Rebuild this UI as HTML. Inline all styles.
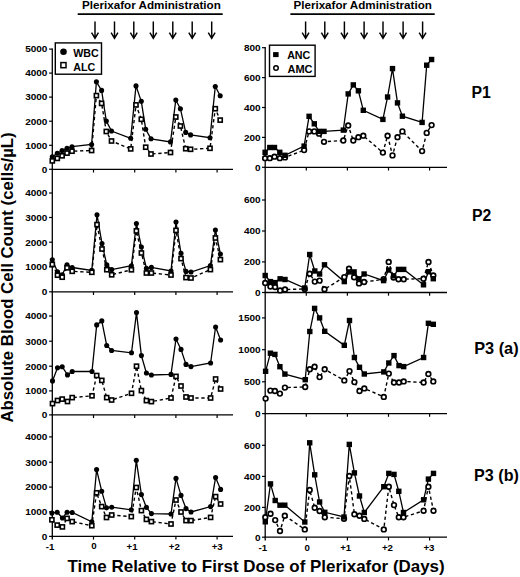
<!DOCTYPE html>
<html><head><meta charset="utf-8"><style>
html,body{margin:0;padding:0;background:#fff;}
body{width:520px;height:577px;overflow:hidden;position:relative;font-family:"Liberation Sans",sans-serif;}
</style></head><body>
<svg width="520" height="577" viewBox="0 0 520 577" style="position:absolute;left:0;top:0">
<rect width="520" height="577" fill="#fff"/>
<g stroke="#000" fill="none" stroke-linecap="butt">
<line x1="52.3" y1="48.4" x2="52.3" y2="539.6" stroke-width="1.3"/>
<line x1="265.2" y1="47.0" x2="265.2" y2="540.4" stroke-width="1.3"/>
<line x1="51.699999999999996" y1="169.3" x2="233.0" y2="169.3" stroke-width="1.3"/>
<line x1="93.5" y1="169.3" x2="93.5" y2="172.5" stroke-width="1.2"/>
<line x1="134.7" y1="169.3" x2="134.7" y2="172.5" stroke-width="1.2"/>
<line x1="175.9" y1="169.3" x2="175.9" y2="172.5" stroke-width="1.2"/>
<line x1="217.1" y1="169.3" x2="217.1" y2="172.5" stroke-width="1.2"/>
<line x1="51.699999999999996" y1="291.8" x2="233.0" y2="291.8" stroke-width="1.3"/>
<line x1="93.5" y1="291.8" x2="93.5" y2="295.0" stroke-width="1.2"/>
<line x1="134.7" y1="291.8" x2="134.7" y2="295.0" stroke-width="1.2"/>
<line x1="175.9" y1="291.8" x2="175.9" y2="295.0" stroke-width="1.2"/>
<line x1="217.1" y1="291.8" x2="217.1" y2="295.0" stroke-width="1.2"/>
<line x1="51.699999999999996" y1="414.9" x2="233.0" y2="414.9" stroke-width="1.3"/>
<line x1="93.5" y1="414.9" x2="93.5" y2="418.09999999999997" stroke-width="1.2"/>
<line x1="134.7" y1="414.9" x2="134.7" y2="418.09999999999997" stroke-width="1.2"/>
<line x1="175.9" y1="414.9" x2="175.9" y2="418.09999999999997" stroke-width="1.2"/>
<line x1="217.1" y1="414.9" x2="217.1" y2="418.09999999999997" stroke-width="1.2"/>
<line x1="51.699999999999996" y1="536.4" x2="233.0" y2="536.4" stroke-width="1.3"/>
<line x1="93.5" y1="536.4" x2="93.5" y2="539.6" stroke-width="1.2"/>
<line x1="134.7" y1="536.4" x2="134.7" y2="539.6" stroke-width="1.2"/>
<line x1="175.9" y1="536.4" x2="175.9" y2="539.6" stroke-width="1.2"/>
<line x1="217.1" y1="536.4" x2="217.1" y2="539.6" stroke-width="1.2"/>
<line x1="264.59999999999997" y1="167.3" x2="447.0" y2="167.3" stroke-width="1.3"/>
<line x1="306.3" y1="167.3" x2="306.3" y2="170.5" stroke-width="1.2"/>
<line x1="347.4" y1="167.3" x2="347.4" y2="170.5" stroke-width="1.2"/>
<line x1="388.5" y1="167.3" x2="388.5" y2="170.5" stroke-width="1.2"/>
<line x1="429.6" y1="167.3" x2="429.6" y2="170.5" stroke-width="1.2"/>
<line x1="264.59999999999997" y1="292.5" x2="447.0" y2="292.5" stroke-width="1.3"/>
<line x1="306.3" y1="292.5" x2="306.3" y2="295.7" stroke-width="1.2"/>
<line x1="347.4" y1="292.5" x2="347.4" y2="295.7" stroke-width="1.2"/>
<line x1="388.5" y1="292.5" x2="388.5" y2="295.7" stroke-width="1.2"/>
<line x1="429.6" y1="292.5" x2="429.6" y2="295.7" stroke-width="1.2"/>
<line x1="264.59999999999997" y1="413.6" x2="447.0" y2="413.6" stroke-width="1.3"/>
<line x1="306.3" y1="413.6" x2="306.3" y2="416.8" stroke-width="1.2"/>
<line x1="347.4" y1="413.6" x2="347.4" y2="416.8" stroke-width="1.2"/>
<line x1="388.5" y1="413.6" x2="388.5" y2="416.8" stroke-width="1.2"/>
<line x1="429.6" y1="413.6" x2="429.6" y2="416.8" stroke-width="1.2"/>
<line x1="264.59999999999997" y1="537.2" x2="447.0" y2="537.2" stroke-width="1.3"/>
<line x1="306.3" y1="537.2" x2="306.3" y2="540.4000000000001" stroke-width="1.2"/>
<line x1="347.4" y1="537.2" x2="347.4" y2="540.4000000000001" stroke-width="1.2"/>
<line x1="388.5" y1="537.2" x2="388.5" y2="540.4000000000001" stroke-width="1.2"/>
<line x1="429.6" y1="537.2" x2="429.6" y2="540.4000000000001" stroke-width="1.2"/>
<line x1="49.099999999999994" y1="169.3" x2="52.3" y2="169.3" stroke-width="1.2"/>
<line x1="49.099999999999994" y1="145.3" x2="52.3" y2="145.3" stroke-width="1.2"/>
<line x1="49.099999999999994" y1="121.2" x2="52.3" y2="121.2" stroke-width="1.2"/>
<line x1="49.099999999999994" y1="97.1" x2="52.3" y2="97.1" stroke-width="1.2"/>
<line x1="49.099999999999994" y1="73.1" x2="52.3" y2="73.1" stroke-width="1.2"/>
<line x1="49.099999999999994" y1="49.1" x2="52.3" y2="49.1" stroke-width="1.2"/>
<line x1="49.099999999999994" y1="291.8" x2="52.3" y2="291.8" stroke-width="1.2"/>
<line x1="49.099999999999994" y1="266.8" x2="52.3" y2="266.8" stroke-width="1.2"/>
<line x1="49.099999999999994" y1="242.2" x2="52.3" y2="242.2" stroke-width="1.2"/>
<line x1="49.099999999999994" y1="217.5" x2="52.3" y2="217.5" stroke-width="1.2"/>
<line x1="49.099999999999994" y1="193.0" x2="52.3" y2="193.0" stroke-width="1.2"/>
<line x1="49.099999999999994" y1="414.9" x2="52.3" y2="414.9" stroke-width="1.2"/>
<line x1="49.099999999999994" y1="390.9" x2="52.3" y2="390.9" stroke-width="1.2"/>
<line x1="49.099999999999994" y1="366.2" x2="52.3" y2="366.2" stroke-width="1.2"/>
<line x1="49.099999999999994" y1="341.2" x2="52.3" y2="341.2" stroke-width="1.2"/>
<line x1="49.099999999999994" y1="316.0" x2="52.3" y2="316.0" stroke-width="1.2"/>
<line x1="49.099999999999994" y1="536.4" x2="52.3" y2="536.4" stroke-width="1.2"/>
<line x1="49.099999999999994" y1="511.8" x2="52.3" y2="511.8" stroke-width="1.2"/>
<line x1="49.099999999999994" y1="487.1" x2="52.3" y2="487.1" stroke-width="1.2"/>
<line x1="49.099999999999994" y1="462.2" x2="52.3" y2="462.2" stroke-width="1.2"/>
<line x1="49.099999999999994" y1="436.9" x2="52.3" y2="436.9" stroke-width="1.2"/>
<line x1="262.0" y1="167.3" x2="265.2" y2="167.3" stroke-width="1.2"/>
<line x1="262.0" y1="137.4" x2="265.2" y2="137.4" stroke-width="1.2"/>
<line x1="262.0" y1="107.5" x2="265.2" y2="107.5" stroke-width="1.2"/>
<line x1="262.0" y1="77.6" x2="265.2" y2="77.6" stroke-width="1.2"/>
<line x1="262.0" y1="47.7" x2="265.2" y2="47.7" stroke-width="1.2"/>
<line x1="262.0" y1="292.5" x2="265.2" y2="292.5" stroke-width="1.2"/>
<line x1="262.0" y1="261.9" x2="265.2" y2="261.9" stroke-width="1.2"/>
<line x1="262.0" y1="231.0" x2="265.2" y2="231.0" stroke-width="1.2"/>
<line x1="262.0" y1="200.0" x2="265.2" y2="200.0" stroke-width="1.2"/>
<line x1="262.0" y1="413.6" x2="265.2" y2="413.6" stroke-width="1.2"/>
<line x1="262.0" y1="381.8" x2="265.2" y2="381.8" stroke-width="1.2"/>
<line x1="262.0" y1="349.7" x2="265.2" y2="349.7" stroke-width="1.2"/>
<line x1="262.0" y1="317.9" x2="265.2" y2="317.9" stroke-width="1.2"/>
<line x1="262.0" y1="537.2" x2="265.2" y2="537.2" stroke-width="1.2"/>
<line x1="262.0" y1="507.4" x2="265.2" y2="507.4" stroke-width="1.2"/>
<line x1="262.0" y1="476.4" x2="265.2" y2="476.4" stroke-width="1.2"/>
<line x1="262.0" y1="445.3" x2="265.2" y2="445.3" stroke-width="1.2"/>
<line x1="77.7" y1="14.1" x2="222.7" y2="14.1" stroke-width="1.6"/>
<line x1="290.4" y1="14.1" x2="434.7" y2="14.1" stroke-width="1.6"/>
<path d="M95.0 21.4V38.6M91.6 32.6L95.0 38.4L98.4 32.6" stroke-width="1.45"/>
<path d="M114.5 21.4V38.6M111.1 32.6L114.5 38.4L117.9 32.6" stroke-width="1.45"/>
<path d="M133.8 21.4V38.6M130.4 32.6L133.8 38.4L137.20000000000002 32.6" stroke-width="1.45"/>
<path d="M153.3 21.4V38.6M149.9 32.6L153.3 38.4L156.70000000000002 32.6" stroke-width="1.45"/>
<path d="M172.8 21.4V38.6M169.4 32.6L172.8 38.4L176.20000000000002 32.6" stroke-width="1.45"/>
<path d="M192.2 21.4V38.6M188.79999999999998 32.6L192.2 38.4L195.6 32.6" stroke-width="1.45"/>
<path d="M211.7 21.4V38.6M208.29999999999998 32.6L211.7 38.4L215.1 32.6" stroke-width="1.45"/>
<path d="M305.6 21.4V38.6M302.20000000000005 32.6L305.6 38.4L309.0 32.6" stroke-width="1.45"/>
<path d="M324.8 21.4V38.6M321.40000000000003 32.6L324.8 38.4L328.2 32.6" stroke-width="1.45"/>
<path d="M344.4 21.4V38.6M341.0 32.6L344.4 38.4L347.79999999999995 32.6" stroke-width="1.45"/>
<path d="M364.1 21.4V38.6M360.70000000000005 32.6L364.1 38.4L367.5 32.6" stroke-width="1.45"/>
<path d="M383.0 21.4V38.6M379.6 32.6L383.0 38.4L386.4 32.6" stroke-width="1.45"/>
<path d="M403.1 21.4V38.6M399.70000000000005 32.6L403.1 38.4L406.5 32.6" stroke-width="1.45"/>
<path d="M422.6 21.4V38.6M419.20000000000005 32.6L422.6 38.4L426.0 32.6" stroke-width="1.45"/>
</g>
<polyline points="52.3,160.9 57.3,158.4 62.1,155.8 67,153.1 72,151.2 91.6,150.5 96.4,95.6 101.6,103.4 106.3,131.5 111.5,141 130.7,148.9 136,104.9 141.3,119.3 145.7,147.2 151,154 170.5,152.5 175.8,117 180.4,126 185.7,148.7 190.6,149.3 210,148.3 215.3,108.7 220.2,120.1" fill="none" stroke="#000" stroke-width="1.4" stroke-dasharray="3.3 2.7"/>
<polyline points="52.3,156.7 57.3,153.3 62.1,150.6 67,148.3 72,146.7 91.6,144.5 96.4,81.8 101.6,90.4 106.3,121.1 111.5,131 130.7,138.3 136,85.9 141.3,101.3 145.7,129.2 151,138.8 170.5,141.9 175.8,100 180.4,108.7 185.7,132.4 190.6,134.9 210,137.7 215.3,86.5 220.2,95.8" fill="none" stroke="#000" stroke-width="1.3"/>
<circle cx="52.3" cy="156.7" r="2.55" fill="#000"/>
<circle cx="57.3" cy="153.3" r="2.55" fill="#000"/>
<circle cx="62.1" cy="150.6" r="2.55" fill="#000"/>
<circle cx="67" cy="148.3" r="2.55" fill="#000"/>
<circle cx="72" cy="146.7" r="2.55" fill="#000"/>
<circle cx="91.6" cy="144.5" r="2.55" fill="#000"/>
<circle cx="96.4" cy="81.8" r="2.55" fill="#000"/>
<circle cx="101.6" cy="90.4" r="2.55" fill="#000"/>
<circle cx="106.3" cy="121.1" r="2.55" fill="#000"/>
<circle cx="111.5" cy="131" r="2.55" fill="#000"/>
<circle cx="130.7" cy="138.3" r="2.55" fill="#000"/>
<circle cx="136" cy="85.9" r="2.55" fill="#000"/>
<circle cx="141.3" cy="101.3" r="2.55" fill="#000"/>
<circle cx="145.7" cy="129.2" r="2.55" fill="#000"/>
<circle cx="151" cy="138.8" r="2.55" fill="#000"/>
<circle cx="170.5" cy="141.9" r="2.55" fill="#000"/>
<circle cx="175.8" cy="100" r="2.55" fill="#000"/>
<circle cx="180.4" cy="108.7" r="2.55" fill="#000"/>
<circle cx="185.7" cy="132.4" r="2.55" fill="#000"/>
<circle cx="190.6" cy="134.9" r="2.55" fill="#000"/>
<circle cx="210" cy="137.7" r="2.55" fill="#000"/>
<circle cx="215.3" cy="86.5" r="2.55" fill="#000"/>
<circle cx="220.2" cy="95.8" r="2.55" fill="#000"/>
<rect x="50.25" y="158.85" width="4.1" height="4.1" fill="#fff" stroke="#000" stroke-width="1.6"/>
<rect x="55.25" y="156.35" width="4.1" height="4.1" fill="#fff" stroke="#000" stroke-width="1.6"/>
<rect x="60.05" y="153.75" width="4.1" height="4.1" fill="#fff" stroke="#000" stroke-width="1.6"/>
<rect x="64.95" y="151.05" width="4.1" height="4.1" fill="#fff" stroke="#000" stroke-width="1.6"/>
<rect x="69.95" y="149.15" width="4.1" height="4.1" fill="#fff" stroke="#000" stroke-width="1.6"/>
<rect x="89.55" y="148.45" width="4.1" height="4.1" fill="#fff" stroke="#000" stroke-width="1.6"/>
<rect x="94.35" y="93.55" width="4.1" height="4.1" fill="#fff" stroke="#000" stroke-width="1.6"/>
<rect x="99.55" y="101.35" width="4.1" height="4.1" fill="#fff" stroke="#000" stroke-width="1.6"/>
<rect x="104.25" y="129.45" width="4.1" height="4.1" fill="#fff" stroke="#000" stroke-width="1.6"/>
<rect x="109.45" y="138.95" width="4.1" height="4.1" fill="#fff" stroke="#000" stroke-width="1.6"/>
<rect x="128.65" y="146.85" width="4.1" height="4.1" fill="#fff" stroke="#000" stroke-width="1.6"/>
<rect x="133.95" y="102.85" width="4.1" height="4.1" fill="#fff" stroke="#000" stroke-width="1.6"/>
<rect x="139.25" y="117.25" width="4.1" height="4.1" fill="#fff" stroke="#000" stroke-width="1.6"/>
<rect x="143.65" y="145.15" width="4.1" height="4.1" fill="#fff" stroke="#000" stroke-width="1.6"/>
<rect x="148.95" y="151.95" width="4.1" height="4.1" fill="#fff" stroke="#000" stroke-width="1.6"/>
<rect x="168.45" y="150.45" width="4.1" height="4.1" fill="#fff" stroke="#000" stroke-width="1.6"/>
<rect x="173.75" y="114.95" width="4.1" height="4.1" fill="#fff" stroke="#000" stroke-width="1.6"/>
<rect x="178.35" y="123.95" width="4.1" height="4.1" fill="#fff" stroke="#000" stroke-width="1.6"/>
<rect x="183.65" y="146.65" width="4.1" height="4.1" fill="#fff" stroke="#000" stroke-width="1.6"/>
<rect x="188.55" y="147.25" width="4.1" height="4.1" fill="#fff" stroke="#000" stroke-width="1.6"/>
<rect x="207.95" y="146.25" width="4.1" height="4.1" fill="#fff" stroke="#000" stroke-width="1.6"/>
<rect x="213.25" y="106.65" width="4.1" height="4.1" fill="#fff" stroke="#000" stroke-width="1.6"/>
<rect x="218.15" y="118.05" width="4.1" height="4.1" fill="#fff" stroke="#000" stroke-width="1.6"/>
<polyline points="52.3,264.4 57.5,275.2 62.2,277.2 67,267.8 72.2,271.3 91.8,272.3 97,224.6 102,249 106.8,269.7 111.7,274.8 131.4,269.8 136.4,230.9 141.4,253 146.4,273 151.4,273 171,275 176,230.4 181,258.6 186,277.6 191,278 210.4,269.6 215.4,238 220.4,259.6" fill="none" stroke="#000" stroke-width="1.4" stroke-dasharray="3.3 2.7"/>
<polyline points="52.3,259.7 57.5,271.8 62.2,274.8 67,264.9 72.2,267.5 91.8,270.4 97,214.7 102,243.6 106.8,264.9 111.7,269.6 131.4,265.7 136.4,223.5 141.4,247 146.4,268.4 151.4,267.4 171,271 176,222 181,253.4 186,271.4 191,272 210.4,265.6 215.4,230 220.4,254" fill="none" stroke="#000" stroke-width="1.3"/>
<circle cx="52.3" cy="259.7" r="2.55" fill="#000"/>
<circle cx="57.5" cy="271.8" r="2.55" fill="#000"/>
<circle cx="62.2" cy="274.8" r="2.55" fill="#000"/>
<circle cx="67" cy="264.9" r="2.55" fill="#000"/>
<circle cx="72.2" cy="267.5" r="2.55" fill="#000"/>
<circle cx="91.8" cy="270.4" r="2.55" fill="#000"/>
<circle cx="97" cy="214.7" r="2.55" fill="#000"/>
<circle cx="102" cy="243.6" r="2.55" fill="#000"/>
<circle cx="106.8" cy="264.9" r="2.55" fill="#000"/>
<circle cx="111.7" cy="269.6" r="2.55" fill="#000"/>
<circle cx="131.4" cy="265.7" r="2.55" fill="#000"/>
<circle cx="136.4" cy="223.5" r="2.55" fill="#000"/>
<circle cx="141.4" cy="247" r="2.55" fill="#000"/>
<circle cx="146.4" cy="268.4" r="2.55" fill="#000"/>
<circle cx="151.4" cy="267.4" r="2.55" fill="#000"/>
<circle cx="171" cy="271" r="2.55" fill="#000"/>
<circle cx="176" cy="222" r="2.55" fill="#000"/>
<circle cx="181" cy="253.4" r="2.55" fill="#000"/>
<circle cx="186" cy="271.4" r="2.55" fill="#000"/>
<circle cx="191" cy="272" r="2.55" fill="#000"/>
<circle cx="210.4" cy="265.6" r="2.55" fill="#000"/>
<circle cx="215.4" cy="230" r="2.55" fill="#000"/>
<circle cx="220.4" cy="254" r="2.55" fill="#000"/>
<rect x="50.25" y="262.35" width="4.1" height="4.1" fill="#fff" stroke="#000" stroke-width="1.6"/>
<rect x="55.45" y="273.15" width="4.1" height="4.1" fill="#fff" stroke="#000" stroke-width="1.6"/>
<rect x="60.15" y="275.15" width="4.1" height="4.1" fill="#fff" stroke="#000" stroke-width="1.6"/>
<rect x="64.95" y="265.75" width="4.1" height="4.1" fill="#fff" stroke="#000" stroke-width="1.6"/>
<rect x="70.15" y="269.25" width="4.1" height="4.1" fill="#fff" stroke="#000" stroke-width="1.6"/>
<rect x="89.75" y="270.25" width="4.1" height="4.1" fill="#fff" stroke="#000" stroke-width="1.6"/>
<rect x="94.95" y="222.55" width="4.1" height="4.1" fill="#fff" stroke="#000" stroke-width="1.6"/>
<rect x="99.95" y="246.95" width="4.1" height="4.1" fill="#fff" stroke="#000" stroke-width="1.6"/>
<rect x="104.75" y="267.65" width="4.1" height="4.1" fill="#fff" stroke="#000" stroke-width="1.6"/>
<rect x="109.65" y="272.75" width="4.1" height="4.1" fill="#fff" stroke="#000" stroke-width="1.6"/>
<rect x="129.35" y="267.75" width="4.1" height="4.1" fill="#fff" stroke="#000" stroke-width="1.6"/>
<rect x="134.35" y="228.85" width="4.1" height="4.1" fill="#fff" stroke="#000" stroke-width="1.6"/>
<rect x="139.35" y="250.95" width="4.1" height="4.1" fill="#fff" stroke="#000" stroke-width="1.6"/>
<rect x="144.35" y="270.95" width="4.1" height="4.1" fill="#fff" stroke="#000" stroke-width="1.6"/>
<rect x="149.35" y="270.95" width="4.1" height="4.1" fill="#fff" stroke="#000" stroke-width="1.6"/>
<rect x="168.95" y="272.95" width="4.1" height="4.1" fill="#fff" stroke="#000" stroke-width="1.6"/>
<rect x="173.95" y="228.35" width="4.1" height="4.1" fill="#fff" stroke="#000" stroke-width="1.6"/>
<rect x="178.95" y="256.55" width="4.1" height="4.1" fill="#fff" stroke="#000" stroke-width="1.6"/>
<rect x="183.95" y="275.55" width="4.1" height="4.1" fill="#fff" stroke="#000" stroke-width="1.6"/>
<rect x="188.95" y="275.95" width="4.1" height="4.1" fill="#fff" stroke="#000" stroke-width="1.6"/>
<rect x="208.35" y="267.55" width="4.1" height="4.1" fill="#fff" stroke="#000" stroke-width="1.6"/>
<rect x="213.35" y="235.95" width="4.1" height="4.1" fill="#fff" stroke="#000" stroke-width="1.6"/>
<rect x="218.35" y="257.55" width="4.1" height="4.1" fill="#fff" stroke="#000" stroke-width="1.6"/>
<polyline points="52.5,403.6 57.5,400.5 62.2,399.1 67.5,401.5 72.2,397.6 92,395.8 96.7,375.5 101.8,380.4 106.7,397.6 111.6,400 131.5,393.3 136.5,366.2 141.4,390.6 146.4,400.6 151.4,401.6 171,398 176,376.4 181,386 186,397 191,398 210.6,398 215.6,379 220.6,389" fill="none" stroke="#000" stroke-width="1.4" stroke-dasharray="3.3 2.7"/>
<polyline points="52.5,380.9 57.5,367.8 62.2,366.7 67.5,374.9 72.2,371.5 92,371.5 96.7,324.9 101.8,320.9 106.7,345.5 111.6,350.5 131.5,352.8 136.5,312.6 141.4,355.6 146.4,373 151.4,375 171,374.4 176,339 181,349.4 186,364.4 191,366.6 210.6,363 215.6,327 220.6,340" fill="none" stroke="#000" stroke-width="1.3"/>
<circle cx="52.5" cy="380.9" r="2.55" fill="#000"/>
<circle cx="57.5" cy="367.8" r="2.55" fill="#000"/>
<circle cx="62.2" cy="366.7" r="2.55" fill="#000"/>
<circle cx="67.5" cy="374.9" r="2.55" fill="#000"/>
<circle cx="72.2" cy="371.5" r="2.55" fill="#000"/>
<circle cx="92" cy="371.5" r="2.55" fill="#000"/>
<circle cx="96.7" cy="324.9" r="2.55" fill="#000"/>
<circle cx="101.8" cy="320.9" r="2.55" fill="#000"/>
<circle cx="106.7" cy="345.5" r="2.55" fill="#000"/>
<circle cx="111.6" cy="350.5" r="2.55" fill="#000"/>
<circle cx="131.5" cy="352.8" r="2.55" fill="#000"/>
<circle cx="136.5" cy="312.6" r="2.55" fill="#000"/>
<circle cx="141.4" cy="355.6" r="2.55" fill="#000"/>
<circle cx="146.4" cy="373" r="2.55" fill="#000"/>
<circle cx="151.4" cy="375" r="2.55" fill="#000"/>
<circle cx="171" cy="374.4" r="2.55" fill="#000"/>
<circle cx="176" cy="339" r="2.55" fill="#000"/>
<circle cx="181" cy="349.4" r="2.55" fill="#000"/>
<circle cx="186" cy="364.4" r="2.55" fill="#000"/>
<circle cx="191" cy="366.6" r="2.55" fill="#000"/>
<circle cx="210.6" cy="363" r="2.55" fill="#000"/>
<circle cx="215.6" cy="327" r="2.55" fill="#000"/>
<circle cx="220.6" cy="340" r="2.55" fill="#000"/>
<rect x="50.45" y="401.55" width="4.1" height="4.1" fill="#fff" stroke="#000" stroke-width="1.6"/>
<rect x="55.45" y="398.45" width="4.1" height="4.1" fill="#fff" stroke="#000" stroke-width="1.6"/>
<rect x="60.15" y="397.05" width="4.1" height="4.1" fill="#fff" stroke="#000" stroke-width="1.6"/>
<rect x="65.45" y="399.45" width="4.1" height="4.1" fill="#fff" stroke="#000" stroke-width="1.6"/>
<rect x="70.15" y="395.55" width="4.1" height="4.1" fill="#fff" stroke="#000" stroke-width="1.6"/>
<rect x="89.95" y="393.75" width="4.1" height="4.1" fill="#fff" stroke="#000" stroke-width="1.6"/>
<rect x="94.65" y="373.45" width="4.1" height="4.1" fill="#fff" stroke="#000" stroke-width="1.6"/>
<rect x="99.75" y="378.35" width="4.1" height="4.1" fill="#fff" stroke="#000" stroke-width="1.6"/>
<rect x="104.65" y="395.55" width="4.1" height="4.1" fill="#fff" stroke="#000" stroke-width="1.6"/>
<rect x="109.55" y="397.95" width="4.1" height="4.1" fill="#fff" stroke="#000" stroke-width="1.6"/>
<rect x="129.45" y="391.25" width="4.1" height="4.1" fill="#fff" stroke="#000" stroke-width="1.6"/>
<rect x="134.45" y="364.15" width="4.1" height="4.1" fill="#fff" stroke="#000" stroke-width="1.6"/>
<rect x="139.35" y="388.55" width="4.1" height="4.1" fill="#fff" stroke="#000" stroke-width="1.6"/>
<rect x="144.35" y="398.55" width="4.1" height="4.1" fill="#fff" stroke="#000" stroke-width="1.6"/>
<rect x="149.35" y="399.55" width="4.1" height="4.1" fill="#fff" stroke="#000" stroke-width="1.6"/>
<rect x="168.95" y="395.95" width="4.1" height="4.1" fill="#fff" stroke="#000" stroke-width="1.6"/>
<rect x="173.95" y="374.35" width="4.1" height="4.1" fill="#fff" stroke="#000" stroke-width="1.6"/>
<rect x="178.95" y="383.95" width="4.1" height="4.1" fill="#fff" stroke="#000" stroke-width="1.6"/>
<rect x="183.95" y="394.95" width="4.1" height="4.1" fill="#fff" stroke="#000" stroke-width="1.6"/>
<rect x="188.95" y="395.95" width="4.1" height="4.1" fill="#fff" stroke="#000" stroke-width="1.6"/>
<rect x="208.55" y="395.95" width="4.1" height="4.1" fill="#fff" stroke="#000" stroke-width="1.6"/>
<rect x="213.55" y="376.95" width="4.1" height="4.1" fill="#fff" stroke="#000" stroke-width="1.6"/>
<rect x="218.55" y="386.95" width="4.1" height="4.1" fill="#fff" stroke="#000" stroke-width="1.6"/>
<polyline points="51.9,519.8 57.2,525.1 62.4,526.9 67.1,518.4 72.2,521.6 91.8,525.7 96.6,492.8 101.7,506.6 106.5,517.5 111.7,515 131.3,516.6 136.3,487.5 141.4,510.6 146.4,519.4 151.4,521.6 171,524 176,500 181,512 186,520.6 191,520.6 210.6,517.4 215.6,496.6 220.6,504" fill="none" stroke="#000" stroke-width="1.4" stroke-dasharray="3.3 2.7"/>
<polyline points="51.9,513.1 57.2,512.2 62.4,518 67.1,512.2 72.2,512.5 91.8,521.8 96.6,469.6 101.7,491.2 106.5,507.9 111.7,507.2 131.3,509.8 136.3,460.3 141.4,494.6 146.4,507.4 151.4,513.6 171,514 176,478.4 181,495.4 186,508.6 191,512 210.6,506.6 215.6,477.6 220.6,489.4" fill="none" stroke="#000" stroke-width="1.3"/>
<circle cx="51.9" cy="513.1" r="2.55" fill="#000"/>
<circle cx="57.2" cy="512.2" r="2.55" fill="#000"/>
<circle cx="62.4" cy="518" r="2.55" fill="#000"/>
<circle cx="67.1" cy="512.2" r="2.55" fill="#000"/>
<circle cx="72.2" cy="512.5" r="2.55" fill="#000"/>
<circle cx="91.8" cy="521.8" r="2.55" fill="#000"/>
<circle cx="96.6" cy="469.6" r="2.55" fill="#000"/>
<circle cx="101.7" cy="491.2" r="2.55" fill="#000"/>
<circle cx="106.5" cy="507.9" r="2.55" fill="#000"/>
<circle cx="111.7" cy="507.2" r="2.55" fill="#000"/>
<circle cx="131.3" cy="509.8" r="2.55" fill="#000"/>
<circle cx="136.3" cy="460.3" r="2.55" fill="#000"/>
<circle cx="141.4" cy="494.6" r="2.55" fill="#000"/>
<circle cx="146.4" cy="507.4" r="2.55" fill="#000"/>
<circle cx="151.4" cy="513.6" r="2.55" fill="#000"/>
<circle cx="171" cy="514" r="2.55" fill="#000"/>
<circle cx="176" cy="478.4" r="2.55" fill="#000"/>
<circle cx="181" cy="495.4" r="2.55" fill="#000"/>
<circle cx="186" cy="508.6" r="2.55" fill="#000"/>
<circle cx="191" cy="512" r="2.55" fill="#000"/>
<circle cx="210.6" cy="506.6" r="2.55" fill="#000"/>
<circle cx="215.6" cy="477.6" r="2.55" fill="#000"/>
<circle cx="220.6" cy="489.4" r="2.55" fill="#000"/>
<rect x="49.85" y="517.75" width="4.1" height="4.1" fill="#fff" stroke="#000" stroke-width="1.6"/>
<rect x="55.15" y="523.05" width="4.1" height="4.1" fill="#fff" stroke="#000" stroke-width="1.6"/>
<rect x="60.35" y="524.85" width="4.1" height="4.1" fill="#fff" stroke="#000" stroke-width="1.6"/>
<rect x="65.05" y="516.35" width="4.1" height="4.1" fill="#fff" stroke="#000" stroke-width="1.6"/>
<rect x="70.15" y="519.55" width="4.1" height="4.1" fill="#fff" stroke="#000" stroke-width="1.6"/>
<rect x="89.75" y="523.65" width="4.1" height="4.1" fill="#fff" stroke="#000" stroke-width="1.6"/>
<rect x="94.55" y="490.75" width="4.1" height="4.1" fill="#fff" stroke="#000" stroke-width="1.6"/>
<rect x="99.65" y="504.55" width="4.1" height="4.1" fill="#fff" stroke="#000" stroke-width="1.6"/>
<rect x="104.45" y="515.45" width="4.1" height="4.1" fill="#fff" stroke="#000" stroke-width="1.6"/>
<rect x="109.65" y="512.95" width="4.1" height="4.1" fill="#fff" stroke="#000" stroke-width="1.6"/>
<rect x="129.25" y="514.55" width="4.1" height="4.1" fill="#fff" stroke="#000" stroke-width="1.6"/>
<rect x="134.25" y="485.45" width="4.1" height="4.1" fill="#fff" stroke="#000" stroke-width="1.6"/>
<rect x="139.35" y="508.55" width="4.1" height="4.1" fill="#fff" stroke="#000" stroke-width="1.6"/>
<rect x="144.35" y="517.35" width="4.1" height="4.1" fill="#fff" stroke="#000" stroke-width="1.6"/>
<rect x="149.35" y="519.55" width="4.1" height="4.1" fill="#fff" stroke="#000" stroke-width="1.6"/>
<rect x="168.95" y="521.95" width="4.1" height="4.1" fill="#fff" stroke="#000" stroke-width="1.6"/>
<rect x="173.95" y="497.95" width="4.1" height="4.1" fill="#fff" stroke="#000" stroke-width="1.6"/>
<rect x="178.95" y="509.95" width="4.1" height="4.1" fill="#fff" stroke="#000" stroke-width="1.6"/>
<rect x="183.95" y="518.55" width="4.1" height="4.1" fill="#fff" stroke="#000" stroke-width="1.6"/>
<rect x="188.95" y="518.55" width="4.1" height="4.1" fill="#fff" stroke="#000" stroke-width="1.6"/>
<rect x="208.55" y="515.35" width="4.1" height="4.1" fill="#fff" stroke="#000" stroke-width="1.6"/>
<rect x="213.55" y="494.55" width="4.1" height="4.1" fill="#fff" stroke="#000" stroke-width="1.6"/>
<rect x="218.55" y="501.95" width="4.1" height="4.1" fill="#fff" stroke="#000" stroke-width="1.6"/>
<polyline points="265.1,158.2 269.8,158.2 274.5,156.7 279.8,158.2 285,157.4 304.1,150.1 309.1,131.4 314.3,131.4 319.1,133.7 324,141.8 343.3,140.5 348.2,125.5 353.3,140.5 358.4,137.2 363.3,135.7 382.9,152.6 387.6,135.7 392.5,155.4 397.5,137.2 402.4,131.4 422.1,151.1 426.7,132.9 431.6,125.1" fill="none" stroke="#000" stroke-width="1.4" stroke-dasharray="3.3 2.7"/>
<polyline points="265.1,152.3 269.8,147.5 274.5,147.5 279.8,152.3 285,155.3 304.1,146.1 309.1,116.3 314.3,123.8 319.1,131.4 324,131.4 343.3,130.1 348.2,93.9 353.3,84.9 358.4,90.8 363.3,110.3 382.9,119.4 387.6,97 392.5,68.6 397.5,102.9 402.4,116.2 422.1,122.4 426.7,65.2 431.6,59.5" fill="none" stroke="#000" stroke-width="1.3"/>
<circle cx="265.1" cy="158.2" r="2.35" fill="#fff" stroke="#000" stroke-width="1.65"/>
<circle cx="269.8" cy="158.2" r="2.35" fill="#fff" stroke="#000" stroke-width="1.65"/>
<circle cx="274.5" cy="156.7" r="2.35" fill="#fff" stroke="#000" stroke-width="1.65"/>
<circle cx="279.8" cy="158.2" r="2.35" fill="#fff" stroke="#000" stroke-width="1.65"/>
<circle cx="285" cy="157.4" r="2.35" fill="#fff" stroke="#000" stroke-width="1.65"/>
<circle cx="304.1" cy="150.1" r="2.35" fill="#fff" stroke="#000" stroke-width="1.65"/>
<circle cx="309.1" cy="131.4" r="2.35" fill="#fff" stroke="#000" stroke-width="1.65"/>
<circle cx="314.3" cy="131.4" r="2.35" fill="#fff" stroke="#000" stroke-width="1.65"/>
<circle cx="319.1" cy="133.7" r="2.35" fill="#fff" stroke="#000" stroke-width="1.65"/>
<circle cx="324" cy="141.8" r="2.35" fill="#fff" stroke="#000" stroke-width="1.65"/>
<circle cx="343.3" cy="140.5" r="2.35" fill="#fff" stroke="#000" stroke-width="1.65"/>
<circle cx="348.2" cy="125.5" r="2.35" fill="#fff" stroke="#000" stroke-width="1.65"/>
<circle cx="353.3" cy="140.5" r="2.35" fill="#fff" stroke="#000" stroke-width="1.65"/>
<circle cx="358.4" cy="137.2" r="2.35" fill="#fff" stroke="#000" stroke-width="1.65"/>
<circle cx="363.3" cy="135.7" r="2.35" fill="#fff" stroke="#000" stroke-width="1.65"/>
<circle cx="382.9" cy="152.6" r="2.35" fill="#fff" stroke="#000" stroke-width="1.65"/>
<circle cx="387.6" cy="135.7" r="2.35" fill="#fff" stroke="#000" stroke-width="1.65"/>
<circle cx="392.5" cy="155.4" r="2.35" fill="#fff" stroke="#000" stroke-width="1.65"/>
<circle cx="397.5" cy="137.2" r="2.35" fill="#fff" stroke="#000" stroke-width="1.65"/>
<circle cx="402.4" cy="131.4" r="2.35" fill="#fff" stroke="#000" stroke-width="1.65"/>
<circle cx="422.1" cy="151.1" r="2.35" fill="#fff" stroke="#000" stroke-width="1.65"/>
<circle cx="426.7" cy="132.9" r="2.35" fill="#fff" stroke="#000" stroke-width="1.65"/>
<circle cx="431.6" cy="125.1" r="2.35" fill="#fff" stroke="#000" stroke-width="1.65"/>
<rect x="262.40" y="149.60" width="5.4" height="5.4" fill="#000"/>
<rect x="267.10" y="144.80" width="5.4" height="5.4" fill="#000"/>
<rect x="271.80" y="144.80" width="5.4" height="5.4" fill="#000"/>
<rect x="277.10" y="149.60" width="5.4" height="5.4" fill="#000"/>
<rect x="282.30" y="152.60" width="5.4" height="5.4" fill="#000"/>
<rect x="301.40" y="143.40" width="5.4" height="5.4" fill="#000"/>
<rect x="306.40" y="113.60" width="5.4" height="5.4" fill="#000"/>
<rect x="311.60" y="121.10" width="5.4" height="5.4" fill="#000"/>
<rect x="316.40" y="128.70" width="5.4" height="5.4" fill="#000"/>
<rect x="321.30" y="128.70" width="5.4" height="5.4" fill="#000"/>
<rect x="340.60" y="127.40" width="5.4" height="5.4" fill="#000"/>
<rect x="345.50" y="91.20" width="5.4" height="5.4" fill="#000"/>
<rect x="350.60" y="82.20" width="5.4" height="5.4" fill="#000"/>
<rect x="355.70" y="88.10" width="5.4" height="5.4" fill="#000"/>
<rect x="360.60" y="107.60" width="5.4" height="5.4" fill="#000"/>
<rect x="380.20" y="116.70" width="5.4" height="5.4" fill="#000"/>
<rect x="384.90" y="94.30" width="5.4" height="5.4" fill="#000"/>
<rect x="389.80" y="65.90" width="5.4" height="5.4" fill="#000"/>
<rect x="394.80" y="100.20" width="5.4" height="5.4" fill="#000"/>
<rect x="399.70" y="113.50" width="5.4" height="5.4" fill="#000"/>
<rect x="419.40" y="119.70" width="5.4" height="5.4" fill="#000"/>
<rect x="424.00" y="62.50" width="5.4" height="5.4" fill="#000"/>
<rect x="428.90" y="56.80" width="5.4" height="5.4" fill="#000"/>
<polyline points="265.2,283 270.4,286.5 275.1,287 280.1,290.4 285,289.5 304.7,289 309.7,273.8 314.8,281.6 319.6,280.6 324.5,289.3 344.3,277.1 349,268.8 354.1,277.2 359,283.4 364.1,282 383.6,279.3 388.7,261.9 393.6,277.5 398.5,279.2 403.7,279.2 423.5,278.7 428.5,261.9 433.3,275.5" fill="none" stroke="#000" stroke-width="1.4" stroke-dasharray="3.3 2.7"/>
<polyline points="265.2,275.5 270.4,281.6 275.1,282.6 280.1,278.8 285,279.5 304.7,288 309.7,254.5 314.8,271 319.6,274 324.5,264.8 344.3,281.6 349,271.9 354.1,271.9 359,278.8 364.1,274 383.6,280.6 388.7,270 393.6,275.8 398.5,269.4 403.7,269.4 423.5,284.8 428.5,271.7 433.3,278.7" fill="none" stroke="#000" stroke-width="1.3"/>
<circle cx="265.2" cy="283" r="2.35" fill="#fff" stroke="#000" stroke-width="1.65"/>
<circle cx="270.4" cy="286.5" r="2.35" fill="#fff" stroke="#000" stroke-width="1.65"/>
<circle cx="275.1" cy="287" r="2.35" fill="#fff" stroke="#000" stroke-width="1.65"/>
<circle cx="280.1" cy="290.4" r="2.35" fill="#fff" stroke="#000" stroke-width="1.65"/>
<circle cx="285" cy="289.5" r="2.35" fill="#fff" stroke="#000" stroke-width="1.65"/>
<circle cx="304.7" cy="289" r="2.35" fill="#fff" stroke="#000" stroke-width="1.65"/>
<circle cx="309.7" cy="273.8" r="2.35" fill="#fff" stroke="#000" stroke-width="1.65"/>
<circle cx="314.8" cy="281.6" r="2.35" fill="#fff" stroke="#000" stroke-width="1.65"/>
<circle cx="319.6" cy="280.6" r="2.35" fill="#fff" stroke="#000" stroke-width="1.65"/>
<circle cx="324.5" cy="289.3" r="2.35" fill="#fff" stroke="#000" stroke-width="1.65"/>
<circle cx="344.3" cy="277.1" r="2.35" fill="#fff" stroke="#000" stroke-width="1.65"/>
<circle cx="349" cy="268.8" r="2.35" fill="#fff" stroke="#000" stroke-width="1.65"/>
<circle cx="354.1" cy="277.2" r="2.35" fill="#fff" stroke="#000" stroke-width="1.65"/>
<circle cx="359" cy="283.4" r="2.35" fill="#fff" stroke="#000" stroke-width="1.65"/>
<circle cx="364.1" cy="282" r="2.35" fill="#fff" stroke="#000" stroke-width="1.65"/>
<circle cx="383.6" cy="279.3" r="2.35" fill="#fff" stroke="#000" stroke-width="1.65"/>
<circle cx="388.7" cy="261.9" r="2.35" fill="#fff" stroke="#000" stroke-width="1.65"/>
<circle cx="393.6" cy="277.5" r="2.35" fill="#fff" stroke="#000" stroke-width="1.65"/>
<circle cx="398.5" cy="279.2" r="2.35" fill="#fff" stroke="#000" stroke-width="1.65"/>
<circle cx="403.7" cy="279.2" r="2.35" fill="#fff" stroke="#000" stroke-width="1.65"/>
<circle cx="423.5" cy="278.7" r="2.35" fill="#fff" stroke="#000" stroke-width="1.65"/>
<circle cx="428.5" cy="261.9" r="2.35" fill="#fff" stroke="#000" stroke-width="1.65"/>
<circle cx="433.3" cy="275.5" r="2.35" fill="#fff" stroke="#000" stroke-width="1.65"/>
<rect x="262.50" y="272.80" width="5.4" height="5.4" fill="#000"/>
<rect x="267.70" y="278.90" width="5.4" height="5.4" fill="#000"/>
<rect x="272.40" y="279.90" width="5.4" height="5.4" fill="#000"/>
<rect x="277.40" y="276.10" width="5.4" height="5.4" fill="#000"/>
<rect x="282.30" y="276.80" width="5.4" height="5.4" fill="#000"/>
<rect x="302.00" y="285.30" width="5.4" height="5.4" fill="#000"/>
<rect x="307.00" y="251.80" width="5.4" height="5.4" fill="#000"/>
<rect x="312.10" y="268.30" width="5.4" height="5.4" fill="#000"/>
<rect x="316.90" y="271.30" width="5.4" height="5.4" fill="#000"/>
<rect x="321.80" y="262.10" width="5.4" height="5.4" fill="#000"/>
<rect x="341.60" y="278.90" width="5.4" height="5.4" fill="#000"/>
<rect x="346.30" y="269.20" width="5.4" height="5.4" fill="#000"/>
<rect x="351.40" y="269.20" width="5.4" height="5.4" fill="#000"/>
<rect x="356.30" y="276.10" width="5.4" height="5.4" fill="#000"/>
<rect x="361.40" y="271.30" width="5.4" height="5.4" fill="#000"/>
<rect x="380.90" y="277.90" width="5.4" height="5.4" fill="#000"/>
<rect x="386.00" y="267.30" width="5.4" height="5.4" fill="#000"/>
<rect x="390.90" y="273.10" width="5.4" height="5.4" fill="#000"/>
<rect x="395.80" y="266.70" width="5.4" height="5.4" fill="#000"/>
<rect x="401.00" y="266.70" width="5.4" height="5.4" fill="#000"/>
<rect x="420.80" y="282.10" width="5.4" height="5.4" fill="#000"/>
<rect x="425.80" y="269.00" width="5.4" height="5.4" fill="#000"/>
<rect x="430.60" y="276.00" width="5.4" height="5.4" fill="#000"/>
<polyline points="265.6,398.6 270.4,390.6 274.9,391 279.9,393.6 284.9,387.6 305.2,387 309.8,369.3 314.6,366.7 319.6,377.1 324.7,369.3 344.3,380.4 349.5,371.1 354.4,382.1 359.5,391 364.3,388.4 383.8,396.9 388.8,373.6 394,382.5 399,382.5 403.7,381.4 423.6,382.5 428.4,374 433.3,381.4" fill="none" stroke="#000" stroke-width="1.4" stroke-dasharray="3.3 2.7"/>
<polyline points="265.6,371.3 270.4,353.2 274.9,354.4 279.9,366.7 284.9,374.1 305.2,379.7 309.8,331.5 314.6,308.4 319.6,317.9 324.7,331.3 344.3,345.3 349.5,320.5 354.4,357.5 359.5,367.3 364.3,374 383.8,371.9 388.8,363 394,355.6 399,365.6 403.7,366.6 423.6,357.5 428.4,323.3 433.3,324.3" fill="none" stroke="#000" stroke-width="1.3"/>
<circle cx="265.6" cy="398.6" r="2.35" fill="#fff" stroke="#000" stroke-width="1.65"/>
<circle cx="270.4" cy="390.6" r="2.35" fill="#fff" stroke="#000" stroke-width="1.65"/>
<circle cx="274.9" cy="391" r="2.35" fill="#fff" stroke="#000" stroke-width="1.65"/>
<circle cx="279.9" cy="393.6" r="2.35" fill="#fff" stroke="#000" stroke-width="1.65"/>
<circle cx="284.9" cy="387.6" r="2.35" fill="#fff" stroke="#000" stroke-width="1.65"/>
<circle cx="305.2" cy="387" r="2.35" fill="#fff" stroke="#000" stroke-width="1.65"/>
<circle cx="309.8" cy="369.3" r="2.35" fill="#fff" stroke="#000" stroke-width="1.65"/>
<circle cx="314.6" cy="366.7" r="2.35" fill="#fff" stroke="#000" stroke-width="1.65"/>
<circle cx="319.6" cy="377.1" r="2.35" fill="#fff" stroke="#000" stroke-width="1.65"/>
<circle cx="324.7" cy="369.3" r="2.35" fill="#fff" stroke="#000" stroke-width="1.65"/>
<circle cx="344.3" cy="380.4" r="2.35" fill="#fff" stroke="#000" stroke-width="1.65"/>
<circle cx="349.5" cy="371.1" r="2.35" fill="#fff" stroke="#000" stroke-width="1.65"/>
<circle cx="354.4" cy="382.1" r="2.35" fill="#fff" stroke="#000" stroke-width="1.65"/>
<circle cx="359.5" cy="391" r="2.35" fill="#fff" stroke="#000" stroke-width="1.65"/>
<circle cx="364.3" cy="388.4" r="2.35" fill="#fff" stroke="#000" stroke-width="1.65"/>
<circle cx="383.8" cy="396.9" r="2.35" fill="#fff" stroke="#000" stroke-width="1.65"/>
<circle cx="388.8" cy="373.6" r="2.35" fill="#fff" stroke="#000" stroke-width="1.65"/>
<circle cx="394" cy="382.5" r="2.35" fill="#fff" stroke="#000" stroke-width="1.65"/>
<circle cx="399" cy="382.5" r="2.35" fill="#fff" stroke="#000" stroke-width="1.65"/>
<circle cx="403.7" cy="381.4" r="2.35" fill="#fff" stroke="#000" stroke-width="1.65"/>
<circle cx="423.6" cy="382.5" r="2.35" fill="#fff" stroke="#000" stroke-width="1.65"/>
<circle cx="428.4" cy="374" r="2.35" fill="#fff" stroke="#000" stroke-width="1.65"/>
<circle cx="433.3" cy="381.4" r="2.35" fill="#fff" stroke="#000" stroke-width="1.65"/>
<rect x="262.90" y="368.60" width="5.4" height="5.4" fill="#000"/>
<rect x="267.70" y="350.50" width="5.4" height="5.4" fill="#000"/>
<rect x="272.20" y="351.70" width="5.4" height="5.4" fill="#000"/>
<rect x="277.20" y="364.00" width="5.4" height="5.4" fill="#000"/>
<rect x="282.20" y="371.40" width="5.4" height="5.4" fill="#000"/>
<rect x="302.50" y="377.00" width="5.4" height="5.4" fill="#000"/>
<rect x="307.10" y="328.80" width="5.4" height="5.4" fill="#000"/>
<rect x="311.90" y="305.70" width="5.4" height="5.4" fill="#000"/>
<rect x="316.90" y="315.20" width="5.4" height="5.4" fill="#000"/>
<rect x="322.00" y="328.60" width="5.4" height="5.4" fill="#000"/>
<rect x="341.60" y="342.60" width="5.4" height="5.4" fill="#000"/>
<rect x="346.80" y="317.80" width="5.4" height="5.4" fill="#000"/>
<rect x="351.70" y="354.80" width="5.4" height="5.4" fill="#000"/>
<rect x="356.80" y="364.60" width="5.4" height="5.4" fill="#000"/>
<rect x="361.60" y="371.30" width="5.4" height="5.4" fill="#000"/>
<rect x="381.10" y="369.20" width="5.4" height="5.4" fill="#000"/>
<rect x="386.10" y="360.30" width="5.4" height="5.4" fill="#000"/>
<rect x="391.30" y="352.90" width="5.4" height="5.4" fill="#000"/>
<rect x="396.30" y="362.90" width="5.4" height="5.4" fill="#000"/>
<rect x="401.00" y="363.90" width="5.4" height="5.4" fill="#000"/>
<rect x="420.90" y="354.80" width="5.4" height="5.4" fill="#000"/>
<rect x="425.70" y="320.60" width="5.4" height="5.4" fill="#000"/>
<rect x="430.60" y="321.60" width="5.4" height="5.4" fill="#000"/>
<polyline points="265.3,517.2 270.5,513.8 275.2,520.1 280,531 284.8,515.7 304.8,529.4 309.7,490 314.7,507.7 319.6,511 324.8,517.2 344,518.7 349.3,476 354.4,514.2 359.5,515.7 364.3,518.9 383.8,529.4 388.8,486.7 394,505.1 398.8,517.2 403.5,517.2 423.6,510.8 428.4,486.7 433.5,510.8" fill="none" stroke="#000" stroke-width="1.4" stroke-dasharray="3.3 2.7"/>
<polyline points="265.3,521.8 270.5,483.9 275.2,500.5 280,505.2 284.8,505.2 304.8,522 309.7,442.8 314.7,474.8 319.6,502 324.8,512.3 344,517 349.3,444.4 354.4,472.9 359.5,496 364.3,512.5 383.8,486.7 388.8,473.4 394,474.4 398.8,491.3 403.5,512.5 423.6,499.8 428.4,479.1 433.5,473.4" fill="none" stroke="#000" stroke-width="1.3"/>
<circle cx="265.3" cy="517.2" r="2.35" fill="#fff" stroke="#000" stroke-width="1.65"/>
<circle cx="270.5" cy="513.8" r="2.35" fill="#fff" stroke="#000" stroke-width="1.65"/>
<circle cx="275.2" cy="520.1" r="2.35" fill="#fff" stroke="#000" stroke-width="1.65"/>
<circle cx="280" cy="531" r="2.35" fill="#fff" stroke="#000" stroke-width="1.65"/>
<circle cx="284.8" cy="515.7" r="2.35" fill="#fff" stroke="#000" stroke-width="1.65"/>
<circle cx="304.8" cy="529.4" r="2.35" fill="#fff" stroke="#000" stroke-width="1.65"/>
<circle cx="309.7" cy="490" r="2.35" fill="#fff" stroke="#000" stroke-width="1.65"/>
<circle cx="314.7" cy="507.7" r="2.35" fill="#fff" stroke="#000" stroke-width="1.65"/>
<circle cx="319.6" cy="511" r="2.35" fill="#fff" stroke="#000" stroke-width="1.65"/>
<circle cx="324.8" cy="517.2" r="2.35" fill="#fff" stroke="#000" stroke-width="1.65"/>
<circle cx="344" cy="518.7" r="2.35" fill="#fff" stroke="#000" stroke-width="1.65"/>
<circle cx="349.3" cy="476" r="2.35" fill="#fff" stroke="#000" stroke-width="1.65"/>
<circle cx="354.4" cy="514.2" r="2.35" fill="#fff" stroke="#000" stroke-width="1.65"/>
<circle cx="359.5" cy="515.7" r="2.35" fill="#fff" stroke="#000" stroke-width="1.65"/>
<circle cx="364.3" cy="518.9" r="2.35" fill="#fff" stroke="#000" stroke-width="1.65"/>
<circle cx="383.8" cy="529.4" r="2.35" fill="#fff" stroke="#000" stroke-width="1.65"/>
<circle cx="388.8" cy="486.7" r="2.35" fill="#fff" stroke="#000" stroke-width="1.65"/>
<circle cx="394" cy="505.1" r="2.35" fill="#fff" stroke="#000" stroke-width="1.65"/>
<circle cx="398.8" cy="517.2" r="2.35" fill="#fff" stroke="#000" stroke-width="1.65"/>
<circle cx="403.5" cy="517.2" r="2.35" fill="#fff" stroke="#000" stroke-width="1.65"/>
<circle cx="423.6" cy="510.8" r="2.35" fill="#fff" stroke="#000" stroke-width="1.65"/>
<circle cx="428.4" cy="486.7" r="2.35" fill="#fff" stroke="#000" stroke-width="1.65"/>
<circle cx="433.5" cy="510.8" r="2.35" fill="#fff" stroke="#000" stroke-width="1.65"/>
<rect x="262.60" y="519.10" width="5.4" height="5.4" fill="#000"/>
<rect x="267.80" y="481.20" width="5.4" height="5.4" fill="#000"/>
<rect x="272.50" y="497.80" width="5.4" height="5.4" fill="#000"/>
<rect x="277.30" y="502.50" width="5.4" height="5.4" fill="#000"/>
<rect x="282.10" y="502.50" width="5.4" height="5.4" fill="#000"/>
<rect x="302.10" y="519.30" width="5.4" height="5.4" fill="#000"/>
<rect x="307.00" y="440.10" width="5.4" height="5.4" fill="#000"/>
<rect x="312.00" y="472.10" width="5.4" height="5.4" fill="#000"/>
<rect x="316.90" y="499.30" width="5.4" height="5.4" fill="#000"/>
<rect x="322.10" y="509.60" width="5.4" height="5.4" fill="#000"/>
<rect x="341.30" y="514.30" width="5.4" height="5.4" fill="#000"/>
<rect x="346.60" y="441.70" width="5.4" height="5.4" fill="#000"/>
<rect x="351.70" y="470.20" width="5.4" height="5.4" fill="#000"/>
<rect x="356.80" y="493.30" width="5.4" height="5.4" fill="#000"/>
<rect x="361.60" y="509.80" width="5.4" height="5.4" fill="#000"/>
<rect x="381.10" y="484.00" width="5.4" height="5.4" fill="#000"/>
<rect x="386.10" y="470.70" width="5.4" height="5.4" fill="#000"/>
<rect x="391.30" y="471.70" width="5.4" height="5.4" fill="#000"/>
<rect x="396.10" y="488.60" width="5.4" height="5.4" fill="#000"/>
<rect x="400.80" y="509.80" width="5.4" height="5.4" fill="#000"/>
<rect x="420.90" y="497.10" width="5.4" height="5.4" fill="#000"/>
<rect x="425.70" y="476.40" width="5.4" height="5.4" fill="#000"/>
<rect x="430.80" y="470.70" width="5.4" height="5.4" fill="#000"/>
<rect x="55.3" y="42.9" width="46.2" height="31.3" fill="#fff" stroke="#000" stroke-width="1.4"/>
<circle cx="63.5" cy="51.7" r="3.3" fill="#000"/>
<rect x="60.9" y="62.6" width="5.1" height="5.1" fill="#fff" stroke="#000" stroke-width="1.5"/>
<rect x="269.5" y="45.2" width="45.6" height="31.2" fill="#fff" stroke="#000" stroke-width="1.4"/>
<rect x="273.1" y="52.1" width="5.5" height="5.0" fill="#000"/>
<circle cx="276.0" cy="68.0" r="2.25" fill="#fff" stroke="#000" stroke-width="1.5"/>
<text x="81.98" y="9.15" font-size="11.67" text-anchor="start" font-family="'Liberation Sans', sans-serif" font-weight="bold" >Plerixafor Administration</text>
<text x="293.44" y="9.15" font-size="11.64" text-anchor="start" font-family="'Liberation Sans', sans-serif" font-weight="bold" >Plerixafor Administration</text>
<text x="73.25" y="56.75" font-size="10.70" text-anchor="start" font-family="'Liberation Sans', sans-serif" font-weight="bold" >WBC</text>
<text x="73.35" y="70.95" font-size="10.70" text-anchor="start" font-family="'Liberation Sans', sans-serif" font-weight="bold" >ALC</text>
<text x="287.16" y="59.45" font-size="10.70" text-anchor="start" font-family="'Liberation Sans', sans-serif" font-weight="bold" >ANC</text>
<text x="287.47" y="72.65" font-size="11.00" text-anchor="start" font-family="'Liberation Sans', sans-serif" font-weight="bold" >AMC</text>
<text x="471.45" y="98.40" font-size="15.80" text-anchor="start" font-family="'Liberation Sans', sans-serif" font-weight="bold" >P1</text>
<text x="471.99" y="221.30" font-size="15.80" text-anchor="start" font-family="'Liberation Sans', sans-serif" font-weight="bold" >P2</text>
<text x="474.24" y="354.00" font-size="16.30" text-anchor="start" font-family="'Liberation Sans', sans-serif" font-weight="bold" >P3 (a)</text>
<text x="474.11" y="481.30" font-size="16.10" text-anchor="start" font-family="'Liberation Sans', sans-serif" font-weight="bold" >P3 (b)</text>
<text x="67.55" y="572.20" font-size="16.95" text-anchor="start" font-family="'Liberation Sans', sans-serif" font-weight="bold" >Time Relative to First Dose of Plerixafor (Days)</text>
<text x="0" y="0" font-size="16.80" text-anchor="middle" font-family="'Liberation Sans', sans-serif" font-weight="bold" transform="translate(12.52 277.45) rotate(-90)">Absolute Blood Cell Count (cells/µL)</text>
<text x="41.84" y="172.60" font-size="9.8" textLength="5.56" lengthAdjust="spacingAndGlyphs" font-family="'Liberation Sans', sans-serif" font-weight="bold">0</text>
<text x="25.15" y="148.60" font-size="9.8" textLength="22.25" lengthAdjust="spacingAndGlyphs" font-family="'Liberation Sans', sans-serif" font-weight="bold">1000</text>
<text x="25.15" y="124.50" font-size="9.8" textLength="22.25" lengthAdjust="spacingAndGlyphs" font-family="'Liberation Sans', sans-serif" font-weight="bold">2000</text>
<text x="25.15" y="100.40" font-size="9.8" textLength="22.25" lengthAdjust="spacingAndGlyphs" font-family="'Liberation Sans', sans-serif" font-weight="bold">3000</text>
<text x="25.15" y="76.40" font-size="9.8" textLength="22.25" lengthAdjust="spacingAndGlyphs" font-family="'Liberation Sans', sans-serif" font-weight="bold">4000</text>
<text x="25.15" y="52.40" font-size="9.8" textLength="22.25" lengthAdjust="spacingAndGlyphs" font-family="'Liberation Sans', sans-serif" font-weight="bold">5000</text>
<text x="41.84" y="295.10" font-size="9.8" textLength="5.56" lengthAdjust="spacingAndGlyphs" font-family="'Liberation Sans', sans-serif" font-weight="bold">0</text>
<text x="25.15" y="270.10" font-size="9.8" textLength="22.25" lengthAdjust="spacingAndGlyphs" font-family="'Liberation Sans', sans-serif" font-weight="bold">1000</text>
<text x="25.15" y="245.50" font-size="9.8" textLength="22.25" lengthAdjust="spacingAndGlyphs" font-family="'Liberation Sans', sans-serif" font-weight="bold">2000</text>
<text x="25.15" y="220.80" font-size="9.8" textLength="22.25" lengthAdjust="spacingAndGlyphs" font-family="'Liberation Sans', sans-serif" font-weight="bold">3000</text>
<text x="25.15" y="196.30" font-size="9.8" textLength="22.25" lengthAdjust="spacingAndGlyphs" font-family="'Liberation Sans', sans-serif" font-weight="bold">4000</text>
<text x="41.84" y="418.20" font-size="9.8" textLength="5.56" lengthAdjust="spacingAndGlyphs" font-family="'Liberation Sans', sans-serif" font-weight="bold">0</text>
<text x="25.15" y="394.20" font-size="9.8" textLength="22.25" lengthAdjust="spacingAndGlyphs" font-family="'Liberation Sans', sans-serif" font-weight="bold">1000</text>
<text x="25.15" y="369.50" font-size="9.8" textLength="22.25" lengthAdjust="spacingAndGlyphs" font-family="'Liberation Sans', sans-serif" font-weight="bold">2000</text>
<text x="25.15" y="344.50" font-size="9.8" textLength="22.25" lengthAdjust="spacingAndGlyphs" font-family="'Liberation Sans', sans-serif" font-weight="bold">3000</text>
<text x="25.15" y="319.30" font-size="9.8" textLength="22.25" lengthAdjust="spacingAndGlyphs" font-family="'Liberation Sans', sans-serif" font-weight="bold">4000</text>
<text x="41.84" y="539.70" font-size="9.8" textLength="5.56" lengthAdjust="spacingAndGlyphs" font-family="'Liberation Sans', sans-serif" font-weight="bold">0</text>
<text x="25.15" y="515.10" font-size="9.8" textLength="22.25" lengthAdjust="spacingAndGlyphs" font-family="'Liberation Sans', sans-serif" font-weight="bold">1000</text>
<text x="25.15" y="490.40" font-size="9.8" textLength="22.25" lengthAdjust="spacingAndGlyphs" font-family="'Liberation Sans', sans-serif" font-weight="bold">2000</text>
<text x="25.15" y="465.50" font-size="9.8" textLength="22.25" lengthAdjust="spacingAndGlyphs" font-family="'Liberation Sans', sans-serif" font-weight="bold">3000</text>
<text x="25.15" y="440.20" font-size="9.8" textLength="22.25" lengthAdjust="spacingAndGlyphs" font-family="'Liberation Sans', sans-serif" font-weight="bold">4000</text>
<text x="255.04" y="170.60" font-size="9.8" textLength="5.56" lengthAdjust="spacingAndGlyphs" font-family="'Liberation Sans', sans-serif" font-weight="bold">0</text>
<text x="243.91" y="140.70" font-size="9.8" textLength="16.69" lengthAdjust="spacingAndGlyphs" font-family="'Liberation Sans', sans-serif" font-weight="bold">200</text>
<text x="243.91" y="110.80" font-size="9.8" textLength="16.69" lengthAdjust="spacingAndGlyphs" font-family="'Liberation Sans', sans-serif" font-weight="bold">400</text>
<text x="243.91" y="80.90" font-size="9.8" textLength="16.69" lengthAdjust="spacingAndGlyphs" font-family="'Liberation Sans', sans-serif" font-weight="bold">600</text>
<text x="243.91" y="51.00" font-size="9.8" textLength="16.69" lengthAdjust="spacingAndGlyphs" font-family="'Liberation Sans', sans-serif" font-weight="bold">800</text>
<text x="255.04" y="295.80" font-size="9.8" textLength="5.56" lengthAdjust="spacingAndGlyphs" font-family="'Liberation Sans', sans-serif" font-weight="bold">0</text>
<text x="243.91" y="265.20" font-size="9.8" textLength="16.69" lengthAdjust="spacingAndGlyphs" font-family="'Liberation Sans', sans-serif" font-weight="bold">200</text>
<text x="243.91" y="234.30" font-size="9.8" textLength="16.69" lengthAdjust="spacingAndGlyphs" font-family="'Liberation Sans', sans-serif" font-weight="bold">400</text>
<text x="243.91" y="203.30" font-size="9.8" textLength="16.69" lengthAdjust="spacingAndGlyphs" font-family="'Liberation Sans', sans-serif" font-weight="bold">600</text>
<text x="255.04" y="416.90" font-size="9.8" textLength="5.56" lengthAdjust="spacingAndGlyphs" font-family="'Liberation Sans', sans-serif" font-weight="bold">0</text>
<text x="243.91" y="385.10" font-size="9.8" textLength="16.69" lengthAdjust="spacingAndGlyphs" font-family="'Liberation Sans', sans-serif" font-weight="bold">500</text>
<text x="238.35" y="353.00" font-size="9.8" textLength="22.25" lengthAdjust="spacingAndGlyphs" font-family="'Liberation Sans', sans-serif" font-weight="bold">1000</text>
<text x="238.35" y="321.20" font-size="9.8" textLength="22.25" lengthAdjust="spacingAndGlyphs" font-family="'Liberation Sans', sans-serif" font-weight="bold">1500</text>
<text x="255.04" y="540.50" font-size="9.8" textLength="5.56" lengthAdjust="spacingAndGlyphs" font-family="'Liberation Sans', sans-serif" font-weight="bold">0</text>
<text x="243.91" y="510.70" font-size="9.8" textLength="16.69" lengthAdjust="spacingAndGlyphs" font-family="'Liberation Sans', sans-serif" font-weight="bold">200</text>
<text x="243.91" y="479.70" font-size="9.8" textLength="16.69" lengthAdjust="spacingAndGlyphs" font-family="'Liberation Sans', sans-serif" font-weight="bold">400</text>
<text x="243.91" y="448.60" font-size="9.8" textLength="16.69" lengthAdjust="spacingAndGlyphs" font-family="'Liberation Sans', sans-serif" font-weight="bold">600</text>
<text x="45.69" y="549.95" font-size="9.70" text-anchor="start" font-family="'Liberation Sans', sans-serif" font-weight="bold" >-1</text>
<text x="91.33" y="549.25" font-size="9.70" text-anchor="start" font-family="'Liberation Sans', sans-serif" font-weight="bold" >0</text>
<text x="126.52" y="549.65" font-size="9.70" text-anchor="start" font-family="'Liberation Sans', sans-serif" font-weight="bold" >+1</text>
<text x="168.80" y="549.65" font-size="9.70" text-anchor="start" font-family="'Liberation Sans', sans-serif" font-weight="bold" >+2</text>
<text x="211.67" y="549.65" font-size="9.70" text-anchor="start" font-family="'Liberation Sans', sans-serif" font-weight="bold" >+3</text>
<text x="258.46" y="551.00" font-size="9.70" text-anchor="start" font-family="'Liberation Sans', sans-serif" font-weight="bold" >-1</text>
<text x="304.46" y="551.00" font-size="9.70" text-anchor="start" font-family="'Liberation Sans', sans-serif" font-weight="bold" >0</text>
<text x="340.13" y="551.00" font-size="9.70" text-anchor="start" font-family="'Liberation Sans', sans-serif" font-weight="bold" >+1</text>
<text x="381.94" y="551.00" font-size="9.70" text-anchor="start" font-family="'Liberation Sans', sans-serif" font-weight="bold" >+2</text>
<text x="423.45" y="551.00" font-size="9.70" text-anchor="start" font-family="'Liberation Sans', sans-serif" font-weight="bold" >+3</text>
</svg>
</body></html>
